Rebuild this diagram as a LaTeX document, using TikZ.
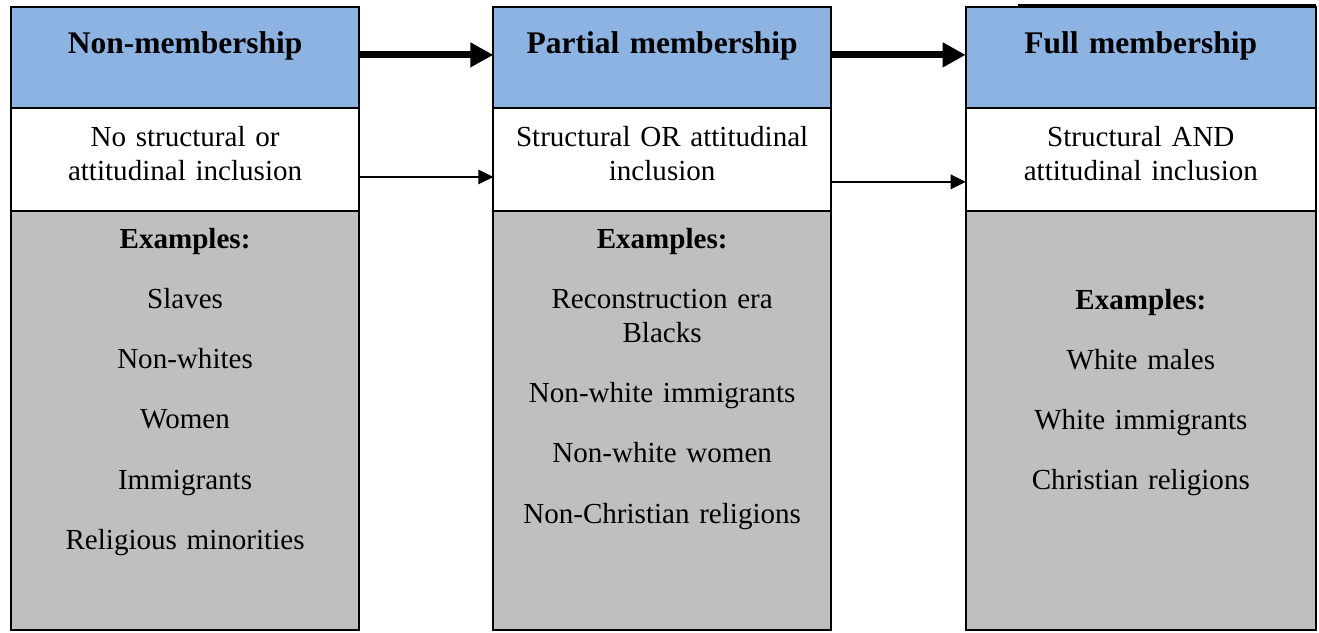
\documentclass[tikz,border=0pt]{standalone}
\usepackage{fontspec}
\setmainfont{Liberation Serif}
\usetikzlibrary{arrows.meta, positioning}
\definecolor{hdblue}{RGB}{141,179,226}
\definecolor{exgray}{RGB}{191,191,191}
\tikzset{
  cell/.style     = {draw, line width=0.8pt, inner sep=0pt, outer sep=0pt,
                     text width=132pt, align=center, text height=10pt},
  bblue/.style    = {cell, fill=hdblue, minimum height=41.7pt, text depth=13.7pt,
                     font=\fontsize{13}{15}\selectfont\bfseries},
  bwhite/.style   = {cell, fill=white, minimum height=42.3pt, text depth=20.6pt,
                     font=\fontsize{12}{14.03}\selectfont},
  bgray/.style    = {cell, fill=exgray, minimum height=173.1pt,
                     font=\fontsize{12}{14.03}\selectfont},
  arrthick/.style = {-{Triangle[length=9.5pt, width=9.7pt]}, line width=2.9pt},
  arrthin/.style  = {-{Triangle[length=6.2pt, width=6pt]}, line width=0.6pt}
}
\begin{document}
\begin{tikzpicture}
  \useasboundingbox (0,0) rectangle (544.5pt,-260.9pt);
  \node[bblue, minimum width=143.7pt] (nonhd) at (76.4pt,-23.86pt) {Non-membership};
  \node[bwhite, minimum width=143.7pt, below=0pt of nonhd] (nonincl)
       {No structural or\\attitudinal inclusion};
  \node[bgray, minimum width=143.7pt, text depth=152pt, below=0pt of nonincl] (nonex)
       {\textbf{Examples:}\\[10.8pt] Slaves\\[10.8pt] Non-whites\\[10.8pt] Women\\[10.8pt]
        Immigrants\\[10.8pt] Religious minorities};
  \node[bblue, minimum width=139.4pt, right=55.4pt of nonhd] (parthd) {Partial membership};
  \node[bwhite, minimum width=139.4pt, below=0pt of parthd] (partincl)
       {Structural OR attitudinal\\inclusion};
  \node[bgray, minimum width=139.4pt, text depth=152pt, below=0pt of partincl] (partex)
       {\textbf{Examples:}\\[10.8pt] Reconstruction era\\Blacks\\[10.8pt]
        Non-white immigrants\\[10.8pt] Non-white women\\[10.8pt] Non-Christian religions};
  \node[bblue, minimum width=144.6pt, right=55.6pt of parthd] (fullhd) {Full membership};
  \node[bwhite, minimum width=144.6pt, below=0pt of fullhd] (fullincl)
       {Structural AND\\attitudinal inclusion};
  \node[bgray, minimum width=144.6pt, text depth=101.7pt, below=0pt of fullincl] (fullex)
       {\textbf{Examples:}\\[10.8pt] White males\\[10.8pt] White immigrants\\[10.8pt]
        Christian religions};
  \draw[line width=0.8pt] ([xshift=21.6pt, yshift=0.95pt]fullhd.north west)
       -- ([yshift=0.95pt]fullhd.north east);
  \draw[arrthick] ([yshift=1.2pt]nonhd.east) -- ([yshift=1.2pt]parthd.west);
  \draw[arrthick] ([yshift=1.2pt]parthd.east) -- ([yshift=1.2pt]fullhd.west);
  \draw[arrthin] ([yshift=-7.2pt]nonincl.east) -- ([yshift=-7.2pt]partincl.west);
  \draw[arrthin] ([yshift=-9.2pt]partincl.east) -- ([yshift=-9.2pt]fullincl.west);
\end{tikzpicture}
\end{document}
